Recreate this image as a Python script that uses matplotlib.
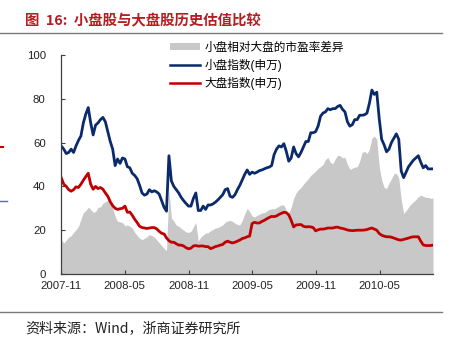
import matplotlib
matplotlib.use("Agg")
import matplotlib.pyplot as plt
from matplotlib.lines import Line2D
from matplotlib.patches import Patch
import pandas as pd

plt.rcParams['font.family'] = ['Liberation Sans', 'Noto Sans CJK SC', 'DejaVu Sans']

# weekly observations, Nov 2007 - Sep 2010
dates = pd.date_range("2007-11-02", periods=153, freq="7D")

small_cap = [
    58.4, 57, 55, 55.5, 57, 55.5, 58.5, 61, 63, 69,
    73, 76, 69, 63.5, 68, 69, 70.5, 71.5, 69.5, 65,
    60.5, 57, 49.5, 52.5, 50.5, 53, 52.5, 49, 48.5, 46,
    45, 43.5, 40.5, 37, 36, 36.5, 38.5, 37.5, 38, 37.5,
    36.5, 33.5, 30.5, 28.7, 54, 42.5, 40, 38.5, 37, 35,
    33.5, 32.2, 31, 31, 34.5, 37, 29, 29, 31, 29.5,
    31.5, 31.5, 32, 32.8, 33.8, 35, 36.2, 38.5, 39, 35.5,
    35, 36.2, 38.5, 40.5, 43, 45.5, 47.5, 45.5, 46.5, 46,
    46.5, 47.2, 47.5, 48, 48.5, 48.8, 49.5, 54.5, 57, 58.5,
    58, 59.5, 56, 51.5, 53, 58, 55, 53.5, 55.5, 58,
    60.5, 60.5, 64.5, 64.5, 65, 67.5, 72, 73.5, 74, 75.5,
    75, 75.5, 75.5, 76.5, 77, 75.2, 74, 69.5, 67.5, 68.2,
    70.5, 70.5, 72.5, 72.5, 72.7, 73.5, 78, 84, 82, 83,
    71, 61.5, 59, 55.8, 57, 60, 62, 64, 61.5, 47,
    44, 46.5, 49, 50.5, 52, 53, 54, 51, 48.5, 49.5,
    48, 48, 48,
]

large_cap = [
    43.8, 41, 40, 38.5, 37.8, 38.5, 39.8, 39.5, 41, 42.8,
    44.5, 46, 41, 38.7, 40, 39, 39.5, 38.7, 37, 35.5,
    33, 31.2, 30, 29.5, 29.8, 30, 31, 28.2, 28.3, 26.8,
    25, 23.5, 21.8, 21.2, 21, 20.8, 21, 21.2, 21.2, 20.6,
    19.5, 18.6, 18.3, 16.5, 15.2, 14.5, 14.5, 13.8, 13.2, 13.2,
    12.8, 12, 11.5, 11.8, 12.8, 13, 12.7, 12.8, 12.8, 12.5,
    12.5, 11.6, 12, 12.5, 12.8, 13.2, 13.5, 14.5, 15, 14.5,
    14.2, 14.5, 15, 15.5, 16.2, 16.5, 17, 17.3, 23, 23.6,
    23.3, 23.3, 24, 24.5, 25.2, 25.8, 26.3, 26.2, 26.5, 27.2,
    27.7, 28.2, 28, 27, 24.5, 21.5, 22.4, 22.5, 22.6, 21.8,
    21.5, 21.6, 21.5, 21.2, 19.7, 20.2, 20.5, 20.5, 20.7, 21,
    21, 21, 21.3, 21.4, 21, 20.8, 20.5, 20.1, 19.9, 19.8,
    19.9, 20, 20, 20, 20.1, 20.3, 20.7, 21, 20.5, 20,
    18.5, 17.7, 17.3, 17, 17, 16.8, 16.4, 16, 15.6, 15.5,
    15.8, 16.1, 16.4, 16.8, 17, 17, 17, 15, 13.3, 13,
    13, 13, 13.2,
]

pe_gap = [
    15.5, 14.2, 15.5, 16.8, 17.5, 19, 20.2, 21.8, 25, 28,
    29, 30.5, 29.5, 28.2, 28.5, 30.5, 30.6, 32.3, 33, 33.5,
    34.7, 30, 26.2, 24, 23.8, 23.5, 22, 22.4, 21.8, 21,
    19, 17.6, 16.3, 15.7, 16.3, 17, 18, 17.6, 16.8, 15.6,
    14.3, 13, 11.7, 10.7, 38, 25.5, 24.2, 22.3, 21.8, 20.8,
    20, 19.2, 19, 19.4, 21.5, 23.5, 15, 16.8, 17.8, 18.7,
    18.8, 19.8, 20.3, 21, 21.2, 21.8, 22.4, 23.7, 24.2, 24.5,
    24, 23.2, 22.6, 22.4, 24.5, 27.5, 30, 28.5, 26.5, 26,
    26.8, 27.3, 27.9, 28, 28.8, 29.5, 29.8, 29.7, 30.3, 31,
    31.5, 31.5, 29, 27.8, 30.5, 34.5, 37, 38.5, 39.5, 41,
    42.3, 43.5, 45, 46, 47, 48.2, 49, 50, 52.3, 53.2,
    51, 50.3, 52.5, 54.2, 54, 53, 53.2, 50, 47.8, 48.3,
    48.8, 49, 51.5, 55.5, 56, 55, 57, 62, 63, 61.5,
    49, 43, 39.5, 39, 41.5, 43.5, 45.7, 46, 43.7, 34,
    27.5, 29, 30.5, 32, 33, 34, 35.2, 36, 35.5, 35,
    35, 34.6, 34.7,
]

tick_labels = ["2007-11", "2008-05", "2008-11", "2009-05", "2009-11", "2010-05"]
label_gap = "小盘相对大盘的市盈率差异"
label_small = "小盘指数(申万)"
label_large = "大盘指数(申万)"

gray = "#c8c8c8"
navy = "#0a2a6c"
red = "#c00000"

fig = plt.figure(figsize=(4.57, 3.37), dpi=100)
ax = fig.add_axes([61 / 457, 1 - 274 / 337, (433 - 61) / 457, (274 - 55) / 337])

ax.fill_between(dates, pe_gap, 0, color=gray, lw=0)
ax.plot(dates, small_cap, color=navy, lw=2.0)
ax.plot(dates, large_cap, color=red, lw=2.0)

ax.set_ylim(0, 100)
ax.set_yticks(range(0, 101, 20))
ax.set_xlim(pd.Timestamp("2007-11-01"), dates[-1])
ax.set_xticks(pd.to_datetime([t + "-01" for t in tick_labels]))
ax.set_xticklabels(tick_labels)

for s in ["top", "right"]:
    ax.spines[s].set_visible(False)
for s in ["left", "bottom"]:
    ax.spines[s].set_color("#404040")
    ax.spines[s].set_linewidth(0.9)
ax.tick_params(axis="y", direction="in", length=3, width=0.8, color="#404040",
               labelsize=8.2, pad=11, labelcolor="#222222")
ax.tick_params(axis="x", direction="in", length=3, width=0.8, color="#404040",
               labelsize=8.2, pad=5, labelcolor="#222222")

handles = [Patch(facecolor=gray, edgecolor="none"),
           Line2D([], [], color=navy, lw=1.8),
           Line2D([], [], color=red, lw=1.8)]
fig.legend(handles, [label_gap, label_small, label_large],
           loc="upper left", bbox_to_anchor=(170 / 457, 1 - 42 / 337),
           frameon=False, fontsize=8.4, handlelength=2.6, handleheight=0.55,
           handletextpad=0.35, labelspacing=0.42, borderpad=0, borderaxespad=0)

# header and footer
fig.text(25 / 457, 1 - 21 / 337, "图  16:  小盘股与大盘股历史估值比较", color="#b41e23",
         fontsize=10.4, fontweight="bold", va="center", ha="left",
         family=["Noto Sans CJK SC", "DejaVu Sans"])
fig.add_artist(Line2D([0, 442 / 457], [1 - 33 / 337] * 2, color="#7a7a7a", lw=1.0))
fig.add_artist(Line2D([0, 442 / 457], [1 - 312 / 337] * 2, color="#7a7a7a", lw=1.0))
fig.text(25 / 457, 1 - 328 / 337, "资料来源：Wind，浙商证券研究所", color="#222222",
         fontsize=10.1, va="center", ha="left",
         family=["Noto Sans CJK SC", "DejaVu Sans"])

# small marks at the left page edge
fig.add_artist(Line2D([0, 3 / 457], [1 - 147 / 337] * 2, color=red, lw=1.5))
fig.add_artist(Line2D([0, 7 / 457], [1 - 201 / 337] * 2, color="#5a6f9a", lw=1.0))

fig.savefig("out.png", dpi=100)
